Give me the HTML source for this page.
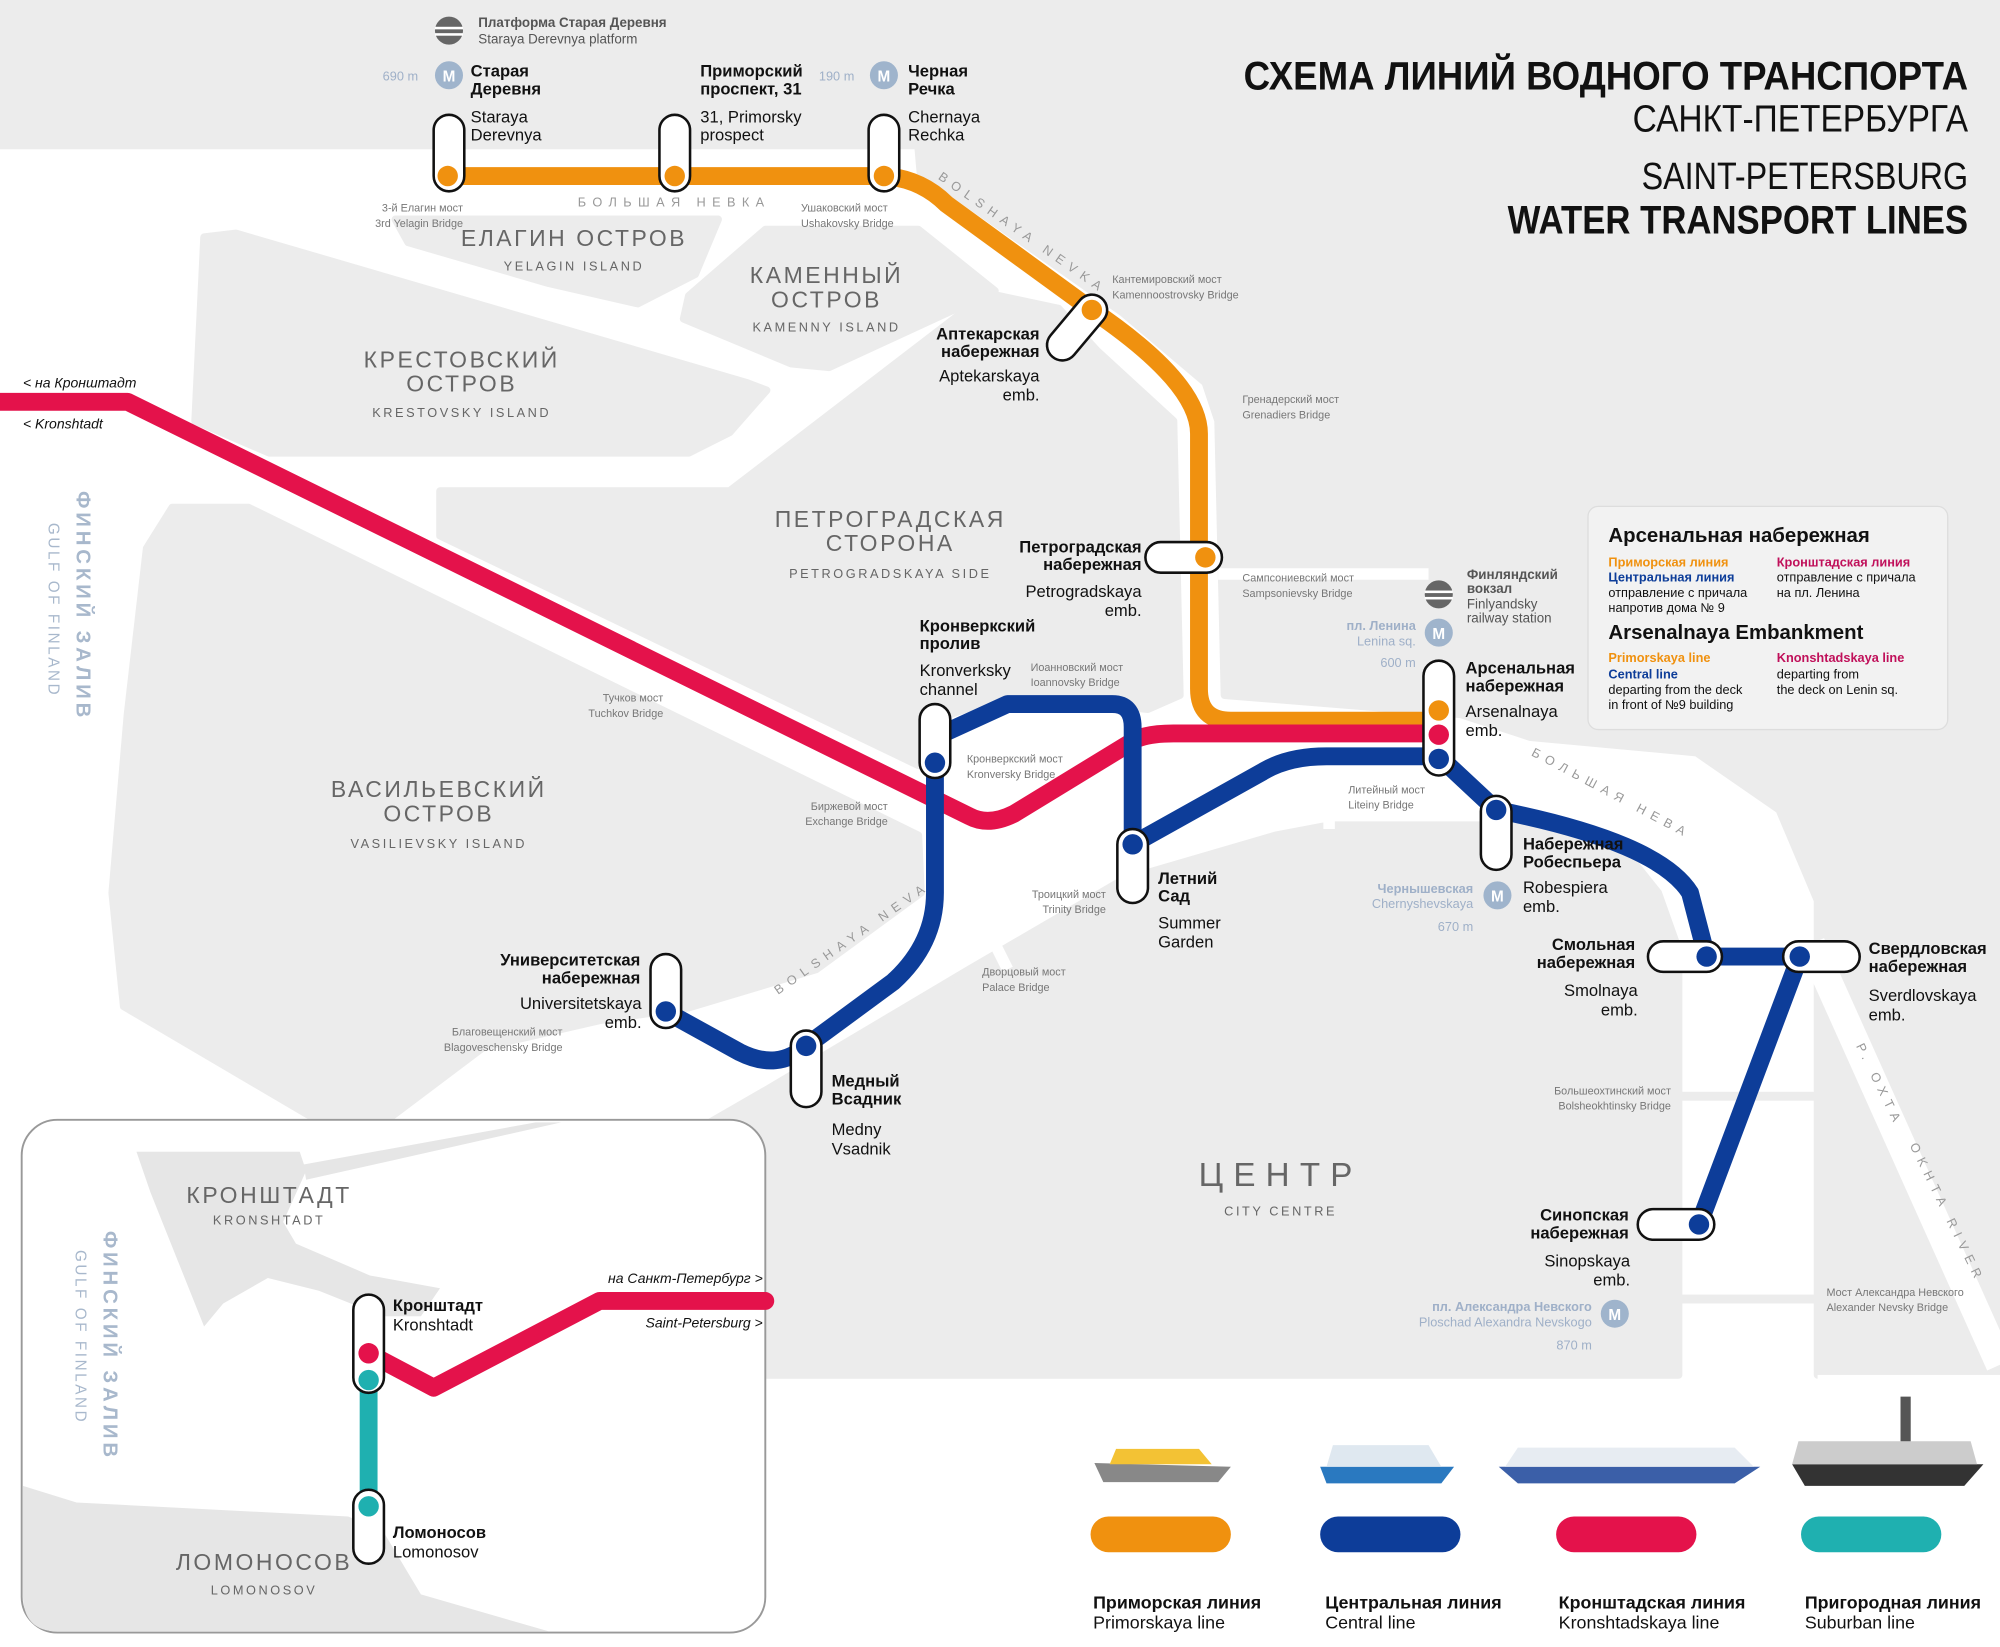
<!DOCTYPE html>
<html><head><meta charset="utf-8"><style>
html,body{margin:0;padding:0;background:#fff}
svg{display:block}
text{font-family:"Liberation Sans","Noto Sans CJK SC",sans-serif}
.b{font-weight:bold;font-size:13px;fill:#111}
.r{font-size:13px;fill:#111}
.s{font-size:8.5px;fill:#777}
.isl{font-size:18px;fill:#666;letter-spacing:2px}
.isl2{font-size:10px;fill:#666;letter-spacing:2px}
.riv{font-size:10px;fill:#999;letter-spacing:5px}
.m{font-size:10px;fill:#9fb0c8}
</style></head><body>
<svg width="2000" height="1647" viewBox="0 0 1568 1291.3" preserveAspectRatio="none" xmlns="http://www.w3.org/2000/svg">
<rect width="1568" height="1292" fill="#fff"/>
<g fill="#ececec" stroke="#ececec" stroke-width="6" stroke-linejoin="round">
<rect x="0" y="0" width="1568" height="117" stroke="none"/>
<polygon points="720,117 1568,117 1568,1078 1425,1078 1425,706 1395,635 1330,590 1200,578 1145,560 960,545 955,330 945,300 880,245 745,150 722,140"/>
<polygon points="310,172 563,172 545,215 500,238 430,222 320,190"/>
<polygon points="600,180 720,180 780,228 650,288 620,285 536,250 540,232"/>
<polygon points="160,186 185,183 585,300 601,306 572,339 540,355 211,355 153,330"/>
<polygon points="345,385 572,385 774,230 830,242 860,275 920,330 925,545 900,556 790,545 745,560 720,600 345,420"/>
<polygon points="135,398 195,398 720,655 722,700 640,760 540,790 470,800 379,821 306,876 245,876 97,789 88,700 100,560 115,430"/>
<polygon points="440,1078 470,930 600,855 760,760 880,690 1000,655 1042,647 1200,647 1268,660 1300,700 1316,745 1316,1078"/>
</g>
<rect x="1316" y="856" width="109" height="7" fill="#ececec"/>
<rect x="1316" y="1015" width="109" height="7" fill="#ececec"/>
<path d="M1420,740 L1568,1070" stroke="#fff" stroke-width="22" fill="none"/>
<rect x="1425" y="1078" width="143" height="20" fill="#fff"/>
<g stroke="#fff" stroke-width="9" fill="none">
<path d="M1042,600 V650"/><path d="M870,600 V690"/><path d="M760,700 L790,760"/><path d="M955,450 H1120"/>
<path d="M460,835 L480,880"/>
</g>
<rect x="17" y="878" width="583" height="402" rx="28" fill="#fff" stroke="#999" stroke-width="1.5"/>
<g fill="#e6e6e6">
<polygon points="107,903 235,903 240,918 222,958 232,975 290,1000 345,1010 330,1032 300,1032 250,1012 210,1002 175,1022 160,1040 140,990 118,935"/>
<path d="M238,913 L420,880 L440,880 L240,925 Z"/>
<path d="M18,1165 L60,1178 L273,1189 L300,1200 L330,1250 L430,1279 L45,1279 Q18,1279 18,1250 Z"/>
</g>
<g fill="none" stroke-width="14" stroke-linejoin="round" stroke-linecap="round">
<path d="M351,138 H693 Q722,140 742,160 L856,243 Q940,300 940,340 V540 Q940,565 965,565 H1128" stroke="#f0910f"/>
<path d="M0,315 H100 L760,640 Q775,648 795,638 L890,580 Q900,575 920,575 H1128" stroke="#e4124b"/>
<path d="M733,598 L733,578 L790,552 H872 Q888,552 888,570 V662 L990,605 Q1010,593 1040,593 H1128 L1173,635 Q1300,660 1325,700 L1338,750 H1411 L1332,960" stroke="#0d3d99"/>
<path d="M733,598 V700 Q733,740 700,770 L632,820 Q610,840 580,825 L522,793" stroke="#0d3d99"/>
<path d="M289,1082 V1181" stroke="#1fb0b0"/>
<path d="M289,1061 L340,1088 L470,1020 H600" stroke="#e4124b"/>
</g>
<g fill="#fff" stroke="#111" stroke-width="2">
<rect x="340" y="90" width="24" height="60" rx="12"/>
<rect x="517" y="90" width="24" height="60" rx="12"/>
<rect x="681" y="90" width="24" height="60" rx="12"/>
<rect x="844" y="231" width="24" height="60" rx="12" transform="rotate(40 856 243)"/>
<rect x="898" y="425" width="60" height="24" rx="12"/>
<rect x="1116" y="518" width="24" height="90" rx="12"/>
<rect x="721" y="552" width="24" height="58" rx="12"/>
<rect x="876" y="650" width="24" height="58" rx="12"/>
<rect x="1161" y="624" width="24" height="58" rx="12"/>
<rect x="1292" y="738" width="58" height="24" rx="12"/>
<rect x="1398" y="738" width="60" height="24" rx="12"/>
<rect x="1284" y="948" width="60" height="24" rx="12"/>
<rect x="510" y="748" width="24" height="58" rx="12"/>
<rect x="620" y="808" width="24" height="60" rx="12"/>
<rect x="277" y="1015" width="24" height="77" rx="12"/>
<rect x="277" y="1168" width="24" height="58" rx="12"/>
</g>
<g>
<circle cx="351" cy="138" r="8" fill="#f0910f"/><circle cx="529" cy="138" r="8" fill="#f0910f"/><circle cx="693" cy="138" r="8" fill="#f0910f"/>
<circle cx="856" cy="243" r="8" fill="#f0910f"/><circle cx="945" cy="437" r="8" fill="#f0910f"/>
<circle cx="1128" cy="557" r="8" fill="#f0910f"/><circle cx="1128" cy="576" r="8" fill="#e4124b"/><circle cx="1128" cy="595" r="8" fill="#0d3d99"/>
<circle cx="733" cy="598" r="8" fill="#0d3d99"/><circle cx="888" cy="662" r="8" fill="#0d3d99"/><circle cx="1173" cy="635" r="8" fill="#0d3d99"/>
<circle cx="1338" cy="750" r="8" fill="#0d3d99"/><circle cx="1411" cy="750" r="8" fill="#0d3d99"/><circle cx="1332" cy="960" r="8" fill="#0d3d99"/>
<circle cx="522" cy="793" r="8" fill="#0d3d99"/><circle cx="632" cy="820" r="8" fill="#0d3d99"/>
<circle cx="289" cy="1061" r="8" fill="#e4124b"/><circle cx="289" cy="1082" r="8" fill="#1fb0b0"/><circle cx="289" cy="1181" r="8" fill="#1fb0b0"/>
</g>
<g fill="#9fb4cc">
<circle cx="352" cy="59" r="11"/><circle cx="693" cy="59" r="11"/><circle cx="1128" cy="496" r="11"/><circle cx="1174" cy="702" r="11"/><circle cx="1266" cy="1030" r="11"/>
</g>
<g font-size="12" font-weight="bold" fill="#fff" text-anchor="middle">
<text x="352" y="64">M</text><text x="693" y="64">M</text><text x="1128" y="501">M</text><text x="1174" y="707">M</text><text x="1266" y="1035">M</text>
</g>
<circle cx="352" cy="24" r="11" fill="#666"/><rect x="341" y="21" width="22" height="2" fill="#fff"/><rect x="341" y="26" width="22" height="2" fill="#fff"/>
<circle cx="1128" cy="466" r="11" fill="#666"/><rect x="1117" y="463" width="22" height="2" fill="#fff"/><rect x="1117" y="468" width="22" height="2" fill="#fff"/>
<g fill="#111">
<text x="975" y="70" font-size="31" font-weight="bold" textLength="568" lengthAdjust="spacingAndGlyphs">СХЕМА ЛИНИЙ ВОДНОГО ТРАНСПОРТА</text>
<text x="1280" y="103" font-size="30" textLength="263" lengthAdjust="spacingAndGlyphs">САНКТ-ПЕТЕРБУРГА</text>
<text x="1287" y="148" font-size="30" textLength="256" lengthAdjust="spacingAndGlyphs">SAINT-PETERSBURG</text>
<text x="1182" y="183" font-size="31" font-weight="bold" textLength="361" lengthAdjust="spacingAndGlyphs">WATER TRANSPORT LINES</text>
</g>
<text x="375" y="21" font-size="10.5" font-weight="bold" fill="#555">Платформа Старая Деревня</text>
<text x="375" y="34" font-size="10.5" fill="#555">Staraya Derevnya platform</text>
<text x="300" y="63" class="m">690 m</text>
<text x="369" y="60" class="b">Старая</text><text x="369" y="74" class="b">Деревня</text>
<text x="369" y="96" class="r">Staraya</text><text x="369" y="110" class="r">Derevnya</text>
<text x="549" y="60" class="b">Приморский</text><text x="549" y="74" class="b">проспект, 31</text>
<text x="549" y="96" class="r">31, Primorsky</text><text x="549" y="110" class="r">prospect</text>
<text x="642" y="63" class="m">190 m</text>
<text x="712" y="60" class="b">Черная</text><text x="712" y="74" class="b">Речка</text>
<text x="712" y="96" class="r">Chernaya</text><text x="712" y="110" class="r">Rechka</text>
<text x="363" y="166" class="s" text-anchor="end">3-й Елагин мост</text><text x="363" y="178" class="s" text-anchor="end">3rd Yelagin Bridge</text>
<text x="453" y="162" class="riv">БОЛЬШАЯ НЕВКА</text>
<text x="628" y="166" class="s">Ушаковский мост</text><text x="628" y="178" class="s">Ushakovsky Bridge</text>
<text x="735" y="140" class="riv" transform="rotate(35 735 140)">BOLSHAYA NEVKA</text>
<text x="872" y="222" class="s">Кантемировский мост</text><text x="872" y="234" class="s">Kamennoostrovsky Bridge</text>
<text x="815" y="266" class="b" text-anchor="end">Аптекарская</text><text x="815" y="280" class="b" text-anchor="end">набережная</text>
<text x="815" y="299" class="r" text-anchor="end">Aptekarskaya</text><text x="815" y="314" class="r" text-anchor="end">emb.</text>
<text x="974" y="316" class="s">Гренадерский мост</text><text x="974" y="328" class="s">Grenadiers Bridge</text>
<text x="895" y="433" class="b" text-anchor="end">Петроградская</text><text x="895" y="447" class="b" text-anchor="end">набережная</text>
<text x="895" y="468" class="r" text-anchor="end">Petrogradskaya</text><text x="895" y="483" class="r" text-anchor="end">emb.</text>
<text x="974" y="456" class="s">Сампсониевский мост</text><text x="974" y="468" class="s">Sampsonievsky Bridge</text>
<text x="1150" y="454" font-size="10.5" font-weight="bold" fill="#555">Финляндский</text><text x="1150" y="465" font-size="10.5" font-weight="bold" fill="#555">вокзал</text>
<text x="1150" y="477" font-size="10.5" fill="#555">Finlyandsky</text><text x="1150" y="488" font-size="10.5" fill="#555">railway station</text>
<text x="1110" y="494" font-size="10" font-weight="bold" fill="#9fb0c8" text-anchor="end">пл. Ленина</text>
<text x="1110" y="506" class="m" text-anchor="end">Lenina sq.</text>
<text x="1110" y="523" class="m" text-anchor="end">600 m</text>
<text x="1149" y="528" class="b">Арсенальная</text><text x="1149" y="542" class="b">набережная</text>
<text x="1149" y="562" class="r">Arsenalnaya</text><text x="1149" y="577" class="r">emb.</text>
<text x="721" y="495" class="b">Кронверкский</text><text x="721" y="509" class="b">пролив</text>
<text x="721" y="530" class="r">Kronverksky</text><text x="721" y="545" class="r">channel</text>
<text x="808" y="526" class="s">Иоанновский мост</text><text x="808" y="538" class="s">Ioannovsky Bridge</text>
<text x="758" y="598" class="s">Кронверкский мост</text><text x="758" y="610" class="s">Kronversky Bridge</text>
<text x="520" y="550" class="s" text-anchor="end">Тучков мост</text><text x="520" y="562" class="s" text-anchor="end">Tuchkov Bridge</text>
<text x="696" y="635" class="s" text-anchor="end">Биржевой мост</text><text x="696" y="647" class="s" text-anchor="end">Exchange Bridge</text>
<text x="1057" y="622" class="s">Литейный мост</text><text x="1057" y="634" class="s">Liteiny Bridge</text>
<text x="908" y="693" class="b">Летний</text><text x="908" y="707" class="b">Сад</text>
<text x="908" y="728" class="r">Summer</text><text x="908" y="743" class="r">Garden</text>
<text x="867" y="704" class="s" text-anchor="end">Троицкий мост</text><text x="867" y="716" class="s" text-anchor="end">Trinity Bridge</text>
<text x="770" y="765" class="s">Дворцовый мост</text><text x="770" y="777" class="s">Palace Bridge</text>
<text x="1194" y="666" class="b">Набережная</text><text x="1194" y="680" class="b">Робеспьера</text>
<text x="1194" y="700" class="r">Robespiera</text><text x="1194" y="715" class="r">emb.</text>
<text x="1155" y="700" font-size="10" font-weight="bold" fill="#9fb0c8" text-anchor="end">Чернышевская</text>
<text x="1155" y="712" class="m" text-anchor="end">Chernyshevskaya</text>
<text x="1155" y="730" class="m" text-anchor="end">670 m</text>
<text x="1200" y="592" class="riv" transform="rotate(28 1200 592)">БОЛЬШАЯ НЕВА</text>
<text x="1282" y="745" class="b" text-anchor="end">Смольная</text><text x="1282" y="759" class="b" text-anchor="end">набережная</text>
<text x="1284" y="781" class="r" text-anchor="end">Smolnaya</text><text x="1284" y="796" class="r" text-anchor="end">emb.</text>
<text x="1465" y="748" class="b">Свердловская</text><text x="1465" y="762" class="b">набережная</text>
<text x="1465" y="785" class="r">Sverdlovskaya</text><text x="1465" y="800" class="r">emb.</text>
<text x="1310" y="858" class="s" text-anchor="end">Большеохтинский мост</text><text x="1310" y="870" class="s" text-anchor="end">Bolsheokhtinsky Bridge</text>
<text x="1455" y="820" class="riv" font-size="9" transform="rotate(64 1455 820)">Р. ОХТА</text>
<text x="1497" y="898" class="riv" font-size="9" transform="rotate(64 1497 898)">OKHTA RIVER</text>
<text x="1277" y="957" class="b" text-anchor="end">Синопская</text><text x="1277" y="971" class="b" text-anchor="end">набережная</text>
<text x="1278" y="993" class="r" text-anchor="end">Sinopskaya</text><text x="1278" y="1008" class="r" text-anchor="end">emb.</text>
<text x="1248" y="1028" font-size="10" font-weight="bold" fill="#9fb0c8" text-anchor="end">пл. Александра Невского</text>
<text x="1248" y="1040" class="m" text-anchor="end">Ploschad Alexandra Nevskogo</text>
<text x="1248" y="1058" class="m" text-anchor="end">870 m</text>
<text x="1432" y="1016" class="s">Мост Александра Невского</text><text x="1432" y="1028" class="s">Alexander Nevsky Bridge</text>
<text x="502" y="757" class="b" text-anchor="end">Университетская</text><text x="502" y="771" class="b" text-anchor="end">набережная</text>
<text x="503" y="791" class="r" text-anchor="end">Universitetskaya</text><text x="503" y="806" class="r" text-anchor="end">emb.</text>
<text x="441" y="812" class="s" text-anchor="end">Благовещенский мост</text><text x="441" y="824" class="s" text-anchor="end">Blagoveschensky Bridge</text>
<text x="652" y="852" class="b">Медный</text><text x="652" y="866" class="b">Всадник</text>
<text x="652" y="890" class="r">Medny</text><text x="652" y="905" class="r">Vsadnik</text>
<text x="610" y="780" class="riv" transform="rotate(-35 610 780)">BOLSHAYA NEVA</text>
<text x="18" y="304" font-size="11" font-style="italic" fill="#111">&lt; на Кронштадт</text>
<text x="18" y="336" font-size="11" font-style="italic" fill="#111">&lt; Kronshtadt</text>
<g text-anchor="middle">
<text x="450" y="193" class="isl">ЕЛАГИН ОСТРОВ</text><text x="450" y="212" class="isl2">YELAGIN ISLAND</text>
<text x="648" y="222" class="isl">КАМЕННЫЙ</text><text x="648" y="241" class="isl">ОСТРОВ</text><text x="648" y="260" class="isl2">KAMENNY ISLAND</text>
<text x="362" y="288" class="isl">КРЕСТОВСКИЙ</text><text x="362" y="307" class="isl">ОСТРОВ</text><text x="362" y="327" class="isl2">KRESTOVSKY ISLAND</text>
<text x="698" y="413" class="isl">ПЕТРОГРАДСКАЯ</text><text x="698" y="432" class="isl">СТОРОНА</text><text x="698" y="453" class="isl2">PETROGRADSKAYA SIDE</text>
<text x="344" y="625" class="isl">ВАСИЛЬЕВСКИЙ</text><text x="344" y="644" class="isl">ОСТРОВ</text><text x="344" y="665" class="isl2">VASILIEVSKY ISLAND</text>
<text x="1004" y="930" font-size="26" fill="#666" letter-spacing="8">ЦЕНТР</text><text x="1004" y="953" class="isl2">CITY CENTRE</text>
<text x="211" y="943" class="isl">КРОНШТАДТ</text><text x="211" y="960" class="isl2">KRONSHTADT</text>
<text x="207" y="1231" class="isl">ЛОМОНОСОВ</text><text x="207" y="1250" class="isl2">LOMONOSOV</text>
</g>
<text x="60" y="385" font-size="16" font-weight="bold" fill="#a8b8cc" letter-spacing="3" transform="rotate(90 60 385)">ФИНСКИЙ ЗАЛИВ</text>
<text x="38" y="410" font-size="12" fill="#a8b8cc" letter-spacing="2" transform="rotate(90 38 410)">GULF OF FINLAND</text>
<text x="81" y="965" font-size="16" font-weight="bold" fill="#a8b8cc" letter-spacing="3" transform="rotate(90 81 965)">ФИНСКИЙ ЗАЛИВ</text>
<text x="59" y="980" font-size="12" fill="#a8b8cc" letter-spacing="2" transform="rotate(90 59 980)">GULF OF FINLAND</text>
<text x="308" y="1028" class="b">Кронштадт</text><text x="308" y="1043" class="r">Kronshtadt</text>
<text x="308" y="1206" class="b">Ломоносов</text><text x="308" y="1221" class="r">Lomonosov</text>
<text x="598" y="1006" font-size="11" font-style="italic" fill="#111" text-anchor="end">на Санкт-Петербург &gt;</text>
<text x="598" y="1041" font-size="11" font-style="italic" fill="#111" text-anchor="end">Saint-Petersburg &gt;</text>
<rect x="1245" y="397" width="282" height="175" rx="8" fill="#f2f2f2" stroke="#ddd"/>
<text x="1261" y="425" font-size="16" font-weight="bold" fill="#111">Арсенальная набережная</text>
<text x="1261" y="444" font-size="10" font-weight="bold" fill="#f0910f">Приморская линия</text>
<text x="1261" y="456" font-size="10" font-weight="bold" fill="#0d3d99">Центральная линия</text>
<text x="1261" y="468" font-size="10" fill="#111">отправление с причала</text>
<text x="1261" y="480" font-size="10" fill="#111">напротив дома № 9</text>
<text x="1393" y="444" font-size="10" font-weight="bold" fill="#c0105a">Кронштадская линия</text>
<text x="1393" y="456" font-size="10" fill="#111">отправление с причала</text>
<text x="1393" y="468" font-size="10" fill="#111">на пл. Ленина</text>
<text x="1261" y="501" font-size="16" font-weight="bold" fill="#111">Arsenalnaya Embankment</text>
<text x="1261" y="519" font-size="10" font-weight="bold" fill="#f0910f">Primorskaya line</text>
<text x="1261" y="532" font-size="10" font-weight="bold" fill="#0d3d99">Central line</text>
<text x="1261" y="544" font-size="10" fill="#111">departing from the deck</text>
<text x="1261" y="556" font-size="10" fill="#111">in front of №9 building</text>
<text x="1393" y="519" font-size="10" font-weight="bold" fill="#c0105a">Knonshtadskaya line</text>
<text x="1393" y="532" font-size="10" fill="#111">departing from</text>
<text x="1393" y="544" font-size="10" fill="#111">the deck on Lenin sq.</text>
<path d="M858,1147 L965,1150 L955,1162 L865,1162 Z" fill="#888"/><path d="M875,1136 H940 L950,1148 H870 Z" fill="#f3c234"/>
<path d="M1035,1150 H1140 L1130,1163 H1040 Z" fill="#2a79c0"/><path d="M1045,1133 H1120 L1130,1150 H1040 Z" fill="#dfe8f0"/>
<path d="M1175,1150 H1380 L1360,1163 H1190 Z" fill="#3b5fa8"/><path d="M1190,1135 H1360 L1375,1150 H1180 Z" fill="#e7ecf2"/>
<path d="M1405,1148 H1555 L1540,1165 H1415 Z" fill="#333"/><path d="M1410,1130 H1545 L1550,1148 H1405 Z" fill="#ccc"/><rect x="1490" y="1095" width="8" height="35" fill="#555"/>
<rect x="855" y="1189" width="110" height="28" rx="14" fill="#f0910f"/>
<rect x="1035" y="1189" width="110" height="28" rx="14" fill="#0d3d99"/>
<rect x="1220" y="1189" width="110" height="28" rx="14" fill="#e4124b"/>
<rect x="1412" y="1189" width="110" height="28" rx="14" fill="#1fb0b0"/>
<text x="857" y="1261" font-size="14" font-weight="bold" fill="#111">Приморская линия</text><text x="857" y="1277" font-size="14" fill="#111">Primorskaya line</text>
<text x="1039" y="1261" font-size="14" font-weight="bold" fill="#111">Центральная линия</text><text x="1039" y="1277" font-size="14" fill="#111">Central line</text>
<text x="1222" y="1261" font-size="14" font-weight="bold" fill="#111">Кронштадская линия</text><text x="1222" y="1277" font-size="14" fill="#111">Kronshtadskaya line</text>
<text x="1415" y="1261" font-size="14" font-weight="bold" fill="#111">Пригородная линия</text><text x="1415" y="1277" font-size="14" fill="#111">Suburban line</text>
</svg>
</body></html>
